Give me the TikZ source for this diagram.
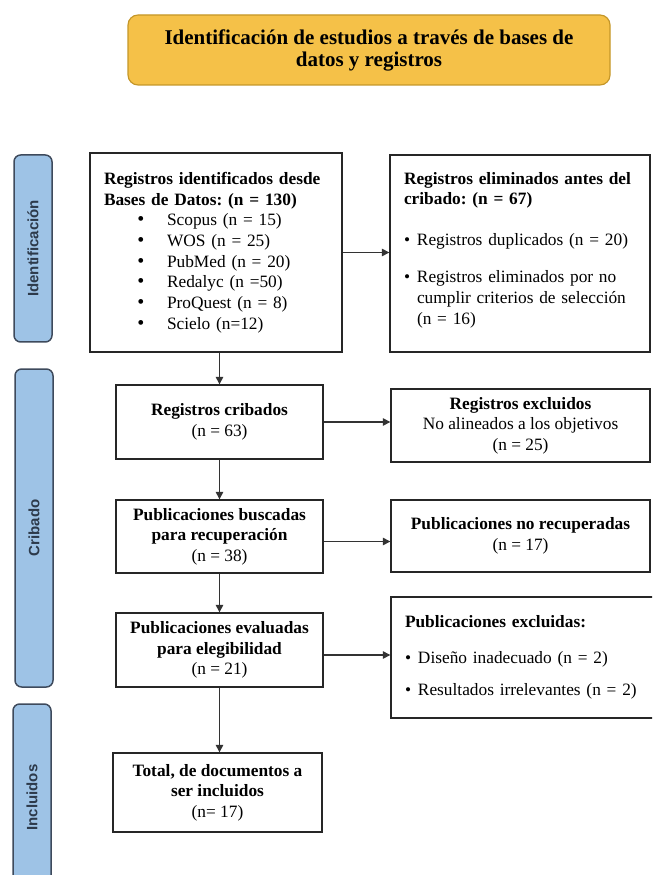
\documentclass[tikz,border=0pt]{standalone}
\usepackage{fontspec}
\setmainfont{Liberation Serif}
\setsansfont{Liberation Sans}
\usetikzlibrary{arrows.meta}
\definecolor{titulo}{RGB}{245,193,72}
\definecolor{titulob}{RGB}{196,150,40}
\definecolor{fase}{RGB}{158,195,230}
\definecolor{faseb}{RGB}{62,74,92}
\definecolor{fasetxt}{RGB}{45,58,75}
\tikzset{
	caja/.style={draw=black!85,line width=0.8pt,inner sep=0pt,align=center,font=\frenchspacing\fontsize{10.4}{12.4}\selectfont},
	fase/.style={draw=faseb,fill=fase,line width=0.9pt,rounded corners=4pt,inner sep=0pt,rotate=90,minimum height=22.8pt,font=\sffamily\bfseries\fontsize{9}{10}\selectfont,text=fasetxt},
	flecha/.style={-{Triangle[length=4.5pt,width=4.5pt]},line width=0.7pt,draw=black!80},
}
\newcommand{\itm}{\hspace*{20pt}\makebox[17.8pt][l]{\large\textbullet}}
\newcommand{\pto}{\makebox[7.8pt][l]{\textbullet}}
\begin{document}
\frenchspacing
\begin{tikzpicture}[x=0.6pt,y=-0.6pt]
		\useasboundingbox (0,0) rectangle (652,875);
		\clip (0,0) rectangle (652,875);
		\pgfmathsetmacro{\colA}{219.5}
		\pgfmathsetmacro{\colB}{520.5}
		% titulo
		\node[draw=titulob,fill=titulo,line width=0.7pt,rounded corners=6pt,minimum width=289.2pt,minimum height=42pt,align=center,font=\bfseries\fontsize{12.6}{13.2}\selectfont] (titulo) at (369,50) {Identificación de estudios a través de bases de\\datos y registros};
		% fases
		\node[fase,minimum width=112.2pt] (identificacion) at (33,248.5) {Identificación};
		\node[fase,minimum width=190.8pt] (cribado) at (34,528) {Cribado};
		\node[fase,minimum width=112.2pt] (incluidos) at (32,797.5) {Incluidos};
		% columna izquierda
		\node[caja,minimum width=151.2pt,minimum height=119.4pt,text width=134.4pt,align=left] (ident) at (216,252.5) {\textbf{Registros identificados desde}\\\textbf{Bases de Datos: (n = 130)}\\
			\itm Scopus (n = 15)\\\itm WOS (n = 25)\\\itm PubMed (n = 20)\\\itm Redalyc (n =50)\\\itm ProQuest (n = 8)\\\itm Scielo (n=12)};
		\node[caja,minimum width=124.2pt,minimum height=44.4pt] (crib) at (\colA,422) {\textbf{Registros cribados}\\(n = 63)};
		\node[caja,minimum width=124.2pt,minimum height=43.8pt] (busc) at (\colA,536.5) {\textbf{Publicaciones buscadas}\\\textbf{para recuperación}\\(n = 38)};
		\node[caja,minimum width=124.2pt,minimum height=44.4pt] (eval) at (\colA,650) {\textbf{Publicaciones evaluadas}\\\textbf{para elegibilidad}\\(n = 21)};
		\node[caja,minimum width=125.4pt,minimum height=47.4pt] (total) at (217.5,792.5) {\textbf{Total, de documentos a}\\\textbf{ser incluidos}\\(n= 17)};
		% columna derecha
		\node[caja,minimum width=156pt,minimum height=118.2pt,text width=139.2pt,align=left] (elim) at (520,253.5) {\textbf{Registros eliminados antes del}\\\textbf{cribado: (n = 67)}\\[12pt]
			\pto Registros duplicados (n = 20)\\[10pt]
			\pto Registros eliminados por no\\\hspace*{7.8pt}cumplir criterios de selección\\\hspace*{7.8pt}(n = 16)\\[-6pt]\mbox{}};
		\node[caja,minimum width=155.4pt,minimum height=43.8pt] (excl) at (\colB,425.5) {\textbf{Registros excluidos}\\No alineados a los objetivos\\(n = 25)};
		\node[caja,minimum width=155.4pt,minimum height=43.2pt] (norec) at (\colB,536) {\textbf{Publicaciones no recuperadas}\\(n = 17)};
		\node[caja,minimum width=157.8pt,minimum height=72.6pt,text width=141pt,align=left] (pexcl) at (522.5,657.5) {\textbf{Publicaciones excluidas:}\\[9pt]
			\pto Diseño inadecuado (n = 2)\\[7pt]
			\pto Resultados irrelevantes (n = 2)};
		% flechas
		\draw[flecha] (crib.north |- ident.south) -- (crib.north);
		\draw[flecha] (ident.east) -- (ident.east -| elim.west);
		\draw[flecha] (crib.east) -- (crib.east -| excl.west);
		\draw[flecha] (crib.south) -- (busc.north);
		\draw[flecha] ([yshift=-3pt]busc.east) -- ([yshift=-3pt]busc.east -| norec.west);
		\draw[flecha] (busc.south) -- (eval.north);
		\draw[flecha] ([yshift=-3pt]eval.east) -- ([yshift=-3pt]eval.east -| pexcl.west);
		\draw[flecha] (eval.south) -- (eval.south |- total.north);
	\end{tikzpicture}
\end{document}
